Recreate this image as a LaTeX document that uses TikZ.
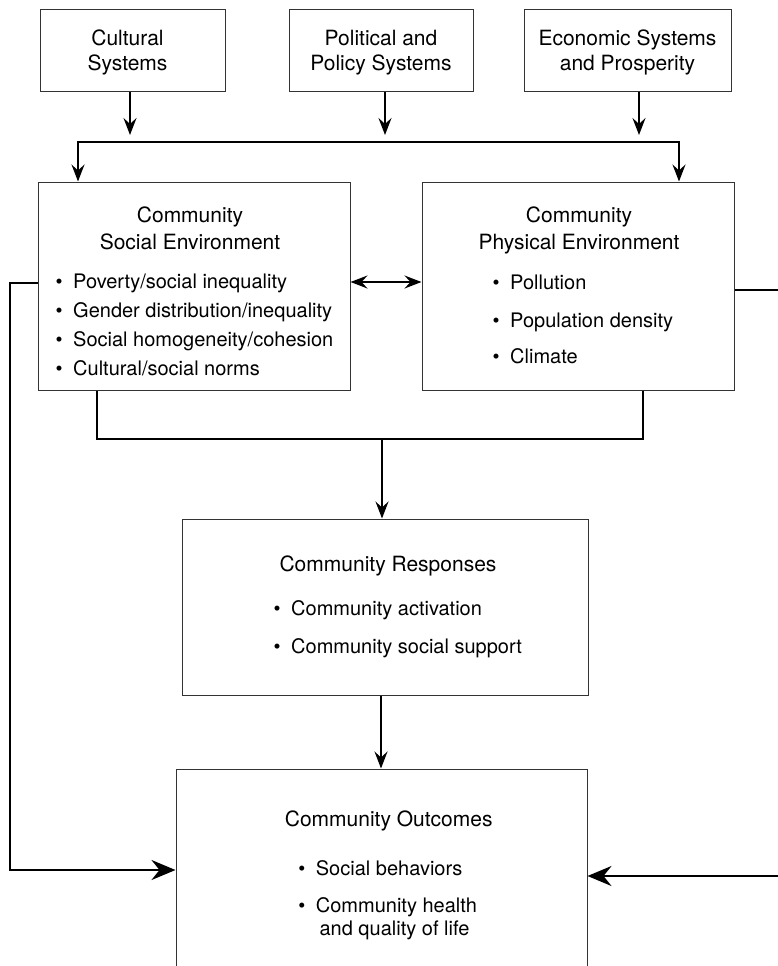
\documentclass[tikz,border=0pt]{standalone}
\usepackage{fontspec}
\setmainfont{TeX Gyre Heros}
\usetikzlibrary{arrows.meta,calc}
\newcommand\bul[1]{\makebox[17.5pt][l]{•}#1}
\begin{document}
\begin{tikzpicture}[x=1pt,y=-1pt,
  box/.style={draw=black!80,line width=1pt,inner sep=0pt},
  ttl/.style={inner sep=0pt,anchor=base,font=\fontsize{21}{25}\selectfont},
  itm/.style={inner sep=0pt,anchor=base west,font=\fontsize{20}{24}\selectfont},
  conn/.style={line width=2pt,draw=black},
  tipS/.style={-{Stealth[length=17pt,width=13pt,inset=6pt]}},
  tipSS/.style={{Stealth[length=17pt,width=13pt,inset=6pt]}-{Stealth[length=17pt,width=13pt,inset=6pt]}},
  tipB/.style={-{Stealth[length=24pt,width=20pt,inset=8pt]}}]
\useasboundingbox (0,0) rectangle (777,966);
% boxes
\node[box,minimum width=184.4pt,minimum height=81pt] (cult) at (132.8,50.5) {};
\node[box,minimum width=184pt,minimum height=81pt] (pol) at (381,50.5) {};
\node[box,minimum width=207.5pt,minimum height=81pt] (eco) at (627.75,50.5) {};
\node[box,minimum width=312pt,minimum height=208pt] (soc) at (194,286) {};
\node[box,minimum width=312pt,minimum height=208pt] (phys) at (578,286) {};
\node[box,minimum width=406pt,minimum height=176pt] (resp) at (385,607) {};
\node[box,minimum width=411pt,minimum height=202pt] (outc) at (381.5,870) {};
% texts
\node[ttl] (t1a) at (127.5,45.2) {Cultural};
\node[ttl] (t1b) at (127.5,70.8) {Systems};
\node[ttl] (t2a) at (381,45.2) {Political and};
\node[ttl] (t2b) at (381,70.8) {Policy Systems};
\node[ttl] (t3a) at (627.5,45.2) {Economic Systems};
\node[ttl] (t3b) at (627.5,70.8) {and Prosperity};
\node[ttl] (s1) at (190,222.3) {Community};
\node[ttl] (s2) at (190,249) {Social Environment};
\node[itm] (si1) at (55.5,288) {\bul{Poverty/social inequality}};
\node[itm] (si2) at (55.5,317.7) {\bul{Gender distribution/inequality}};
\node[itm] (si3) at (55.5,346.3) {\bul{Social homogeneity/cohesion}};
\node[itm] (si4) at (55.5,375.3) {\bul{Cultural/social norms}};
\node[ttl] (p1) at (579,222.3) {Community};
\node[ttl] (p2) at (579,249) {Physical Environment};
\node[itm] (pi1) at (492.5,289.3) {\bul{Pollution}};
\node[itm] (pi2) at (492.5,327) {\bul{Population density}};
\node[itm] (pi3) at (492.5,363.7) {\bul{Climate}};
\node[ttl] (r1) at (388,571.3) {Community Responses};
\node[itm] (ri1) at (273.5,615.3) {\bul{Community activation}};
\node[itm] (ri2) at (273.5,653.7) {\bul{Community social support}};
\node[ttl] (o1) at (388.7,826.6) {Community Outcomes};
\node[itm] (oi1) at (298.2,875.3) {\bul{Social behaviors}};
\node[itm] (oi2) at (298.2,912) {\bul{Community health}};
\node[ttl,font=\fontsize{20}{24}\selectfont] (oi3) at (394.5,935.3) {and quality of life};
% coordinates
\coordinate (a1) at (130,135);
\coordinate (a2) at (385,135);
\coordinate (a3) at (639,135);
\coordinate (bl) at (78,142);
\coordinate (br) at (679,142);
\coordinate (dd) at (0,282);
\coordinate (ll) at (96.6,439);
\coordinate (lr) at (643,439);
\coordinate (lm) at (382,439);
\coordinate (rm) at (381,0);
\coordinate (wl) at (10,283);
\coordinate (wb) at (10,870);
\coordinate (er) at (779,290);
\coordinate (eb) at (779,876);
% connectors
\draw[conn,tipS] (cult.south -| a1) -- (a1);
\draw[conn,tipS] (pol.south -| a2) -- (a2);
\draw[conn,tipS] (eco.south -| a3) -- (a3);
\draw[conn,tipSS] (soc.north -| bl) -- (bl) -- (br) -- (phys.north -| br);
\draw[conn,tipSS] (soc.east |- dd) -- (phys.west |- dd);
\draw[conn] (soc.south -| ll) -- (ll) -- (lr) -- (phys.south -| lr);
\draw[conn,tipS] (lm) -- (resp.north -| lm);
\draw[conn,tipS] (resp.south -| rm) -- (outc.north -| rm);
\draw[conn,tipB] (soc.west |- wl) -- (wl) -- (wb) -- (outc.west |- wb);
\draw[conn] (phys.east |- er) -- (er);
\draw[conn,tipB] (eb) -- (outc.east |- eb);
\end{tikzpicture}
\end{document}
